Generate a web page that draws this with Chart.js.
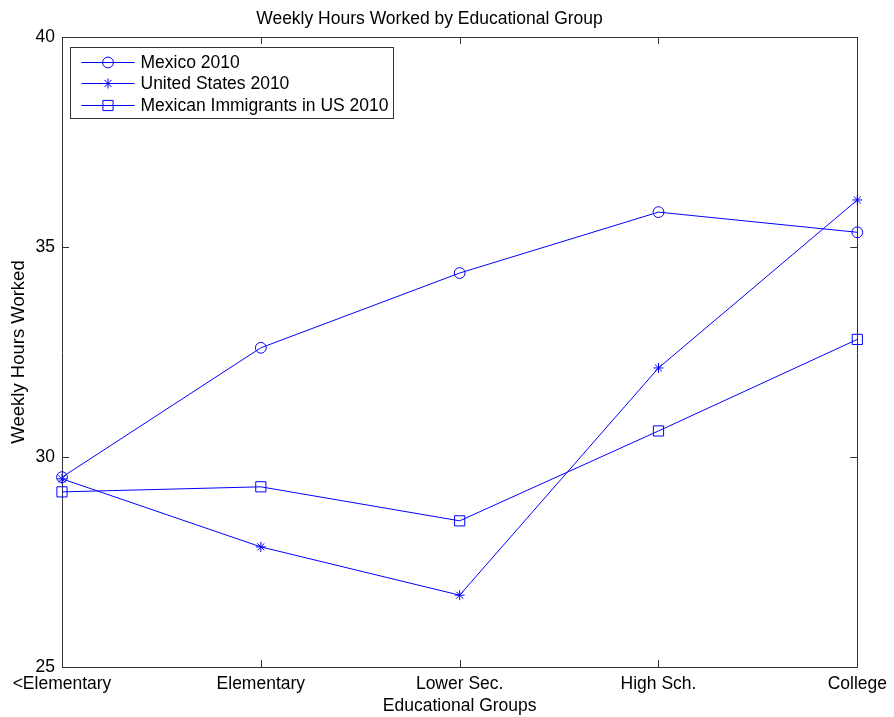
<!DOCTYPE html>
<html>
<head>
<meta charset="utf-8">
<script src="https://cdn.jsdelivr.net/npm/chart.js@4/dist/chart.umd.min.js"></script>
<style>
  html, body { margin: 0; padding: 0; background: #fff; }
  #wrap { width: 894px; height: 717px; }
</style>
</head>
<body>
<div id="wrap"><canvas id="myChart" width="894" height="717"></canvas></div>
<script>
// data
const groups = ["<Elementary", "Elementary", "Lower Sec.", "High Sch.", "College"];
const mexico2010 = [29.52, 32.60, 34.38, 35.83, 35.35];
const us2010 = [29.48, 27.86, 26.71, 32.12, 36.12];
const immigrants2010 = [29.17, 29.29, 28.48, 30.62, 32.80];
const yTicks = [25, 30, 35, 40];

const FONT = "'Liberation Sans', Arial, Helvetica, sans-serif";
const BLUE = "#0000ff";
const AXIS = "#333333";

// matlab style box with inward ticks
const boxPlugin = {
  id: 'box',
  beforeDatasetsDraw(chart) {
    const ctx = chart.ctx;
    const a = chart.chartArea;
    const xs = chart.scales.x, ys = chart.scales.y;
    const tl = 7;
    ctx.save();
    ctx.strokeStyle = AXIS;
    ctx.lineWidth = 1;
    ctx.beginPath();
    ctx.rect(Math.round(a.left) + 0.5, Math.round(a.top) + 0.5,
             Math.round(a.right - a.left), Math.round(a.bottom - a.top));
    groups.forEach((g, i) => {
      const x = Math.round(xs.getPixelForValue(i)) + 0.5;
      ctx.moveTo(x, a.bottom); ctx.lineTo(x, a.bottom - tl);
      ctx.moveTo(x, a.top); ctx.lineTo(x, a.top + tl);
    });
    yTicks.forEach(v => {
      const y = Math.round(ys.getPixelForValue(v)) + 0.5;
      ctx.moveTo(a.left, y); ctx.lineTo(a.left + tl, y);
      ctx.moveTo(a.right, y); ctx.lineTo(a.right - tl, y);
    });
    ctx.stroke();
    ctx.restore();
  }
};

// legend drawn inside the axes, top left
const legendPlugin = {
  id: 'insideLegend',
  afterDatasetsDraw(chart) {
    const ctx = chart.ctx;
    const a = chart.chartArea;
    const bx = a.left + 8.5, by = a.top + 10.5, bw = 323, bh = 71;
    ctx.save();
    ctx.fillStyle = '#fff';
    ctx.fillRect(bx, by, bw, bh);
    ctx.strokeStyle = AXIS;
    ctx.lineWidth = 1;
    ctx.strokeRect(bx, by, bw, bh);
    chart.data.datasets.forEach((ds, i) => {
      const y = Math.round(by + 14 + i * 21.5) + 0.5;
      ctx.save();
      ctx.strokeStyle = ds.borderColor;
      ctx.fillStyle = 'rgba(0,0,0,0)';
      ctx.lineWidth = 1;
      ctx.beginPath();
      ctx.moveTo(bx + 11, y); ctx.lineTo(bx + 64, y);
      ctx.stroke();
      Chart.helpers.drawPoint(ctx, {
        pointStyle: ds.pointStyle, radius: ds.pointRadius, borderWidth: 1
      }, bx + 37.5, y);
      ctx.restore();
      ctx.font = '17.5px ' + FONT;
      ctx.textBaseline = 'middle';
      ctx.fillStyle = '#000';
      ctx.fillText(ds.label, bx + 70, y + 1);
    });
    ctx.restore();
  }
};

const mkSet = (label, data, style, r) => ({
  label: label,
  data: data,
  borderColor: BLUE,
  backgroundColor: 'rgba(0,0,0,0)',
  borderWidth: 1,
  pointStyle: style,
  pointRadius: r,
  pointHoverRadius: r,
  pointBorderColor: BLUE,
  pointBackgroundColor: 'rgba(0,0,0,0)',
  pointBorderWidth: 1,
  tension: 0,
  clip: false
});

new Chart("myChart", {
  type: "line",
  data: {
    labels: groups,
    datasets: [
      mkSet("Mexico 2010", mexico2010, 'circle', 5.4),
      mkSet("United States 2010", us2010, 'star', 5),
      mkSet("Mexican Immigrants in US 2010", immigrants2010, 'rect', 7.2)
    ]
  },
  options: {
    responsive: false,
    animation: false,
    events: [],
    layout: { padding: { left: 0, right: 35, top: 0, bottom: 0 } },
    plugins: {
      legend: { display: false },
      tooltip: { enabled: false },
      title: {
        display: true,
        text: "Weekly Hours Worked by Educational Group",
        color: '#000',
        font: { family: FONT, size: 17.5, weight: 'normal', lineHeight: 1.2 },
        padding: { top: 9, bottom: 7 }
      }
    },
    scales: {
      x: {
        type: 'category',
        offset: false,
        grid: { display: false, drawTicks: false },
        border: { display: false },
        ticks: { color: '#000', padding: 7, maxRotation: 0, autoSkip: false,
                 font: { family: FONT, size: 17.5 } },
        title: { display: true, text: "Educational Groups", color: '#000',
                 padding: 0, font: { family: FONT, size: 17.5 } },
        afterFit(s) { s.height = 50; }
      },
      y: {
        min: 25,
        max: 40,
        afterBuildTicks(s) { s.ticks = yTicks.map(v => ({ value: v })); },
        grid: { display: false, drawTicks: false },
        border: { display: false },
        ticks: { color: '#000', padding: 7, font: { family: FONT, size: 17.5 } },
        title: { display: true, text: "Weekly Hours Worked", color: '#000',
                 padding: { top: 7.5, bottom: 0 }, font: { family: FONT, size: 18.5 } },
        afterFit(s) { s.width = 62; }
      }
    }
  },
  plugins: [boxPlugin, legendPlugin]
});
</script>
</body>
</html>
